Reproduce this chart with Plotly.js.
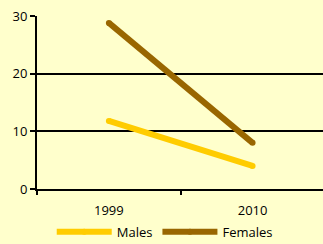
<!DOCTYPE html>
<html><head><meta charset="utf-8">
<script src="https://cdn.plot.ly/plotly-3.0.1.min.js"></script>
<style>html,body{margin:0;padding:0;background:#FFFFCC;}</style>
</head><body>
<div id="chart" style="width:323px;height:244px;"></div>
<script>
var categories = ["1999", "2010"];
var males = [11.8, 4.0];
var females = [28.8, 8.0];
var yTicks = [0, 10, 20, 30];

var traces = [
  {x: categories, y: males, name: "Males", type: "scatter", mode: "lines+markers",
   line: {color: "#FFCC00", width: 6}, marker: {color: "#FFCC00", size: 6}},
  {x: categories, y: females, name: "Females", type: "scatter", mode: "lines+markers",
   line: {color: "#996600", width: 6}, marker: {color: "#996600", size: 6}}
];
var layout = {
  width: 323, height: 244,
  margin: {l: 37, r: 0, t: 16, b: 55, autoexpand: false},
  paper_bgcolor: "#FFFFCC", plot_bgcolor: "#FFFFCC",
  font: {family: "Open Sans, sans-serif", size: 13, color: "#000"},
  showlegend: true,
  legend: {orientation: "h", x: 0.51, xref: "container", xanchor: "center",
           y: 0.05, yref: "container", yanchor: "middle",
           font: {size: 13}, itemwidth: 55, traceorder: "normal", bgcolor: "rgba(0,0,0,0)"},
  xaxis: {type: "category", range: [-0.5, 1.49], showgrid: false, zeroline: false,
          showline: true, linecolor: "#000", linewidth: 2, tickson: "boundaries",
          ticks: "outside", ticklen: 4, tickwidth: 2, tickcolor: "#000", fixedrange: true,
          automargin: false, ticklabelstandoff: 8},
  yaxis: {range: [0, 30], tickvals: yTicks, showgrid: true, gridcolor: "#000", gridwidth: 2,
          zeroline: false, showline: true, linecolor: "#000", linewidth: 2,
          ticks: "outside", ticklen: 5, tickwidth: 2, tickcolor: "#000", fixedrange: true,
          automargin: false}
};
Plotly.newPlot("chart", traces, layout, {displayModeBar: false, staticPlot: true});
</script>
</body></html>
